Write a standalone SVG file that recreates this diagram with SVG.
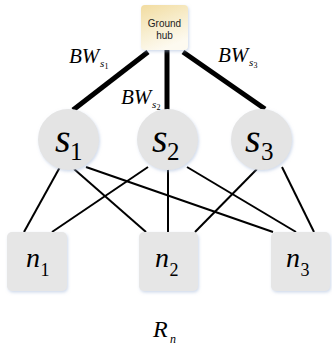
<svg xmlns="http://www.w3.org/2000/svg" width="332" height="347" viewBox="0 0 332 347">
<defs>
<linearGradient id="hubg" x1="0" y1="0" x2="0.4" y2="1">
<stop offset="0" stop-color="#f2dca0"/>
<stop offset="0.6" stop-color="#f8efd2"/>
<stop offset="1" stop-color="#fdfaf0"/>
</linearGradient>
<filter id="sh" x="-20%" y="-20%" width="140%" height="140%">
<feDropShadow dx="1" dy="1.5" stdDeviation="1.5" flood-color="#9fb4d6" flood-opacity="0.5"/>
</filter>
</defs>
<style>
.thin{stroke:#000;stroke-width:2;fill:none}
.thick{stroke:#000;stroke-width:5;fill:none}
.sat{fill:#e4e4e4;filter:url(#sh)}
.nd{fill:#e6e6e6;filter:url(#sh)}
.it{font-family:"Liberation Serif","Times New Roman",serif;font-style:italic;fill:#000}
.rm{font-family:"Liberation Serif","Times New Roman",serif;fill:#000}
.hubt{font-family:"Liberation Sans",Arial,sans-serif;font-size:10px;fill:#222;text-anchor:middle}
</style>
<g id="connectors">
<line class="thick" x1="148" y1="52" x2="73" y2="110"/>
<line class="thick" x1="167" y1="50" x2="167" y2="110"/>
<line class="thick" x1="183" y1="52" x2="265" y2="109"/>
<line class="thin" x1="60" y1="167" x2="24" y2="232"/>
<line class="thin" x1="74" y1="169" x2="146" y2="232"/>
<line class="thin" x1="86" y1="167" x2="273" y2="232"/>
<line class="thin" x1="148" y1="167" x2="52" y2="232"/>
<line class="thin" x1="168" y1="169" x2="168" y2="232"/>
<line class="thin" x1="187" y1="167" x2="296" y2="232"/>
<line class="thin" x1="257" y1="169" x2="195" y2="232"/>
<line class="thin" x1="282" y1="167" x2="314" y2="232"/>
</g>
<g id="hub">
<rect x="141" y="5" width="47" height="45" rx="4" fill="url(#hubg)" filter="url(#sh)"/>
<text class="hubt" x="164.5" y="27">Ground</text>
<text class="hubt" x="164.5" y="39">hub</text>
</g>
<g id="s1">
<circle class="sat" cx="68.5" cy="139.5" r="30.5"/>
<text class="it" x="55" y="152" font-size="40">s</text>
<text class="rm" x="70" y="160" font-size="25">1</text>
</g>
<g id="s2">
<circle class="sat" cx="167.5" cy="139.5" r="30.5"/>
<text class="it" x="152" y="152" font-size="40">s</text>
<text class="rm" x="167" y="160" font-size="25">2</text>
</g>
<g id="s3">
<circle class="sat" cx="261.5" cy="139.5" r="30.5"/>
<text class="it" x="245" y="152" font-size="40">s</text>
<text class="rm" x="261" y="160" font-size="25">3</text>
</g>
<g id="n1">
<rect class="nd" x="7" y="232" width="60" height="59" rx="5"/>
<text class="it" x="26" y="267" font-size="28">n</text>
<text class="rm" x="40.5" y="276" font-size="18">1</text>
</g>
<g id="n2">
<rect class="nd" x="139" y="232" width="59" height="59" rx="5"/>
<text class="it" x="155" y="267" font-size="28">n</text>
<text class="rm" x="169.5" y="276" font-size="18">2</text>
</g>
<g id="n3">
<rect class="nd" x="271" y="232" width="59" height="59" rx="5"/>
<text class="it" x="286" y="267" font-size="28">n</text>
<text class="rm" x="300.5" y="276" font-size="18">3</text>
</g>
<g id="labels">
<text class="it" x="69" y="63" font-size="21">BW</text>
<text class="it" x="100" y="67" font-size="11">s</text>
<text class="rm" x="104.5" y="69" font-size="8">1</text>
<text class="it" x="121" y="104" font-size="21">BW</text>
<text class="it" x="152" y="108" font-size="11">s</text>
<text class="rm" x="156.5" y="110" font-size="8">2</text>
<text class="it" x="218" y="62" font-size="21">BW</text>
<text class="it" x="249" y="66" font-size="11">s</text>
<text class="rm" x="253.5" y="68" font-size="8">3</text>
<text class="it" x="153" y="337" font-size="24">R</text>
<text class="it" x="170" y="343" font-size="12">n</text>
</g>
</svg>
